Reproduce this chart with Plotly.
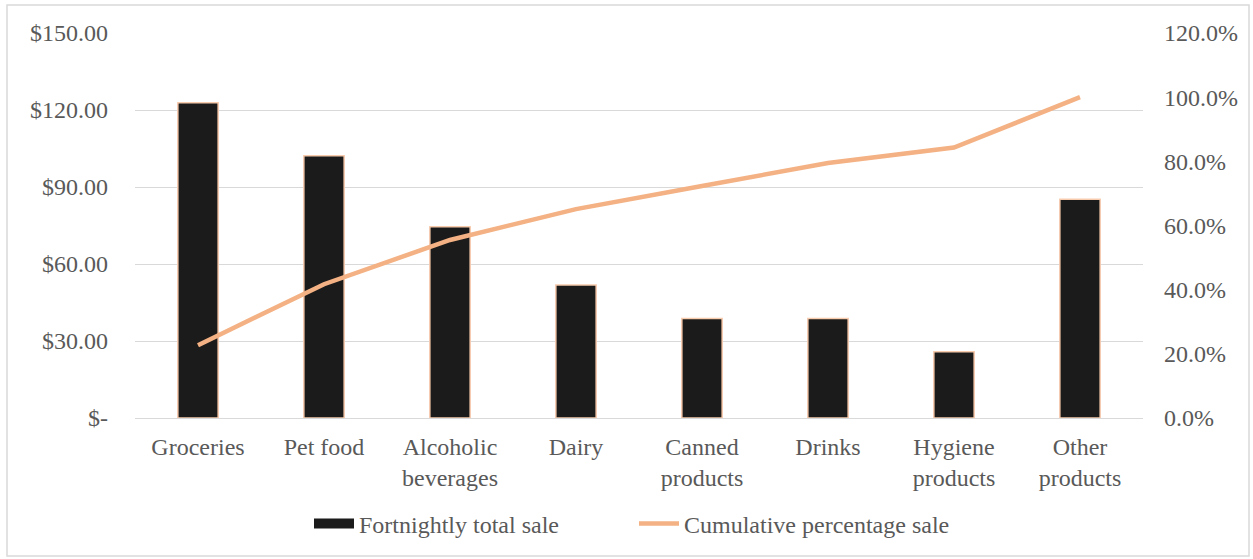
import plotly.graph_objects as go

categories = ["Groceries", "Pet food", "Alcoholic<br>beverages", "Dairy", "Canned<br>products",
              "Drinks", "Hygiene<br>products", "Other<br>products"]
sales = [122.8, 102.2, 74.5, 51.8, 38.8, 38.8, 25.8, 85.2]
cum_pct = [0.227, 0.417, 0.555, 0.651, 0.723, 0.795, 0.843, 1.0]

left_tick_vals = [0, 30, 60, 90, 120, 150]
left_tick_text = ["$-", "$30.00", "$60.00", "$90.00", "$120.00", "$150.00"]
right_tick_vals = [0, 0.2, 0.4, 0.6, 0.8, 1.0, 1.2]
right_tick_text = ["0.0%", "20.0%", "40.0%", "60.0%", "80.0%", "100.0%", "120.0%"]

FONT = "Liberation Serif, Times New Roman, serif"
TXT = "#595959"
FS = 24

fig = go.Figure()
fig.add_trace(go.Bar(
    x=categories, y=sales, name="Fortnightly total sale", showlegend=False,
    marker=dict(color="#1b1b1b", line=dict(color="#f8cbad", width=1.5)),
))
# legend-only proxy giving a wide dark swatch like the reference
fig.add_trace(go.Scatter(
    x=[None], y=[None], name="Fortnightly total sale", mode="lines",
    line=dict(color="#1b1b1b", width=10), showlegend=True, hoverinfo="skip",
))
fig.add_trace(go.Scatter(
    x=categories, y=cum_pct, name="Cumulative percentage sale", yaxis="y2",
    mode="lines", line=dict(color="#f4b183", width=4.5),
))

W, H = 1253, 559
L, R, T, B = 135, 110, 33, 141
pw, ph = W - L - R, H - T - B

def px(x):
    return (x - L) / pw

def py(y):
    return (H - B - y) / ph

fig.update_layout(
    width=W, height=H,
    margin=dict(l=L, r=R, t=T, b=B),
    paper_bgcolor="white", plot_bgcolor="white",
    font=dict(family=FONT, size=FS, color=TXT),
    bargap=0.68,
    showlegend=True,
    legend=dict(orientation="h", x=px(634), xanchor="center", y=py(524), yanchor="middle",
                font=dict(family=FONT, size=FS, color=TXT), itemwidth=40,
                entrywidth=270, traceorder="normal"),
    xaxis=dict(showgrid=False, showline=False, ticks="", tickfont=dict(size=FS, color=TXT),
               ticklabelstandoff=12),
    yaxis=dict(range=[0, 150], tickvals=left_tick_vals, ticktext=left_tick_text,
               showgrid=True, gridcolor="#d9d9d9", gridwidth=1.3,
               zeroline=True, zerolinecolor="#d9d9d9", zerolinewidth=1.3,
               showline=False, ticks="", ticklabelstandoff=26,
               tickfont=dict(size=FS, color=TXT)),
    yaxis2=dict(range=[0, 1.2], tickvals=right_tick_vals, ticktext=right_tick_text,
                overlaying="y", side="right", showgrid=False, zeroline=False,
                showline=False, ticks="", ticklabelstandoff=20,
                tickfont=dict(size=FS, color=TXT)),
    shapes=[dict(type="rect", xref="paper", yref="paper",
                 x0=px(7), x1=px(1249), y0=py(556), y1=py(5),
                 line=dict(color="#d9d9d9", width=1.5), fillcolor="rgba(0,0,0,0)",
                 layer="below")],
)

fig.write_html("out.html", config={"displayModeBar": False},
               post_script="document.body.style.margin='0';document.body.style.overflow='hidden';")
